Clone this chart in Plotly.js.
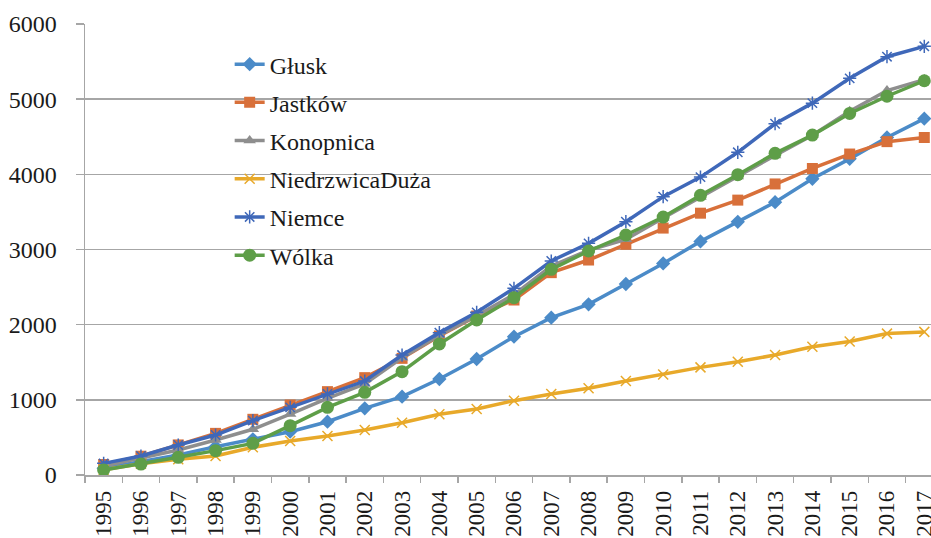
<!DOCTYPE html>
<html><head><meta charset="utf-8">
<script src="https://cdn.plot.ly/plotly-3.0.1.min.js"></script>
<style>html,body{margin:0;padding:0;background:#fff}#chart{width:931px;height:538px}</style>
</head><body><div id="chart"></div>
<script>
const years = ['1995','1996','1997','1998','1999','2000','2001','2002','2003','2004','2005','2006','2007','2008','2009','2010','2011','2012','2013','2014','2015','2016','2017'];
const glusk = [90,175,266,377,475,576,709,887,1042,1277,1543,1840,2093,2271,2541,2815,3108,3368,3629,3941,4206,4490,4741];
const jastkow = [140,250,400,554,741,931,1109,1295,1552,1849,2115,2328,2692,2860,3069,3285,3483,3657,3872,4078,4270,4435,4490];
const konopnica = [120,222,333,466,608,811,1020,1211,1560,1860,2120,2400,2780,2990,3136,3420,3700,3970,4250,4520,4840,5115,5260];
const niedrzwica = [70,150,210,253,368,452,519,599,696,807,878,989,1078,1153,1251,1338,1432,1506,1597,1707,1776,1881,1904];
const niemce = [155,253,399,532,723,900,1078,1250,1596,1894,2164,2483,2847,3082,3370,3703,3963,4293,4673,4947,5277,5565,5703];
const wolka = [67,146,235,324,421,656,900,1100,1375,1743,2062,2359,2736,2980,3193,3432,3721,3995,4279,4522,4810,5039,5245];

const names = ['Głusk','Jastków','Konopnica','NiedrzwicaDuża','Niemce','Wólka'];
const series = [glusk, jastkow, konopnica, niedrzwica, niemce, wolka];
const colors = ['#4b8bc8','#d8703a','#8e8e8e','#e8a92a','#3f68b9','#5e9e48'];
const markers = [
  {symbol:'diamond', size:11},
  {symbol:'square', size:11},
  {symbol:'triangle-up', size:11},
  {symbol:'x-thin', size:10, line:{width:1.5}},
  {symbol:'asterisk', size:11, line:{width:1.5}},
  {symbol:'circle', size:13}
];

const traces = series.map((s,i)=>{
  const m = Object.assign({color: colors[i]}, markers[i]);
  if (m.line) m.line.color = colors[i];
  return {
    x: years, y: s, type:'scatter', mode:'lines+markers', name: names[i],
    legendgroup: 'g'+i,
    line:{color: colors[i], width:3.5},
    marker: m
  };
});
const fam = 'Liberation Serif, Times New Roman, DejaVu Serif, serif';
const layout = {
  width:931, height:538,
  margin:{l:85, r:0, t:24, b:63, pad:0},
  paper_bgcolor:'#fff', plot_bgcolor:'#fff',
  font: {family:fam, size:24, color:'#1a1a1a'},
  showlegend:true,
  legend:{x:0.171, y:0.96, xanchor:'left', yanchor:'top', bgcolor:'rgba(0,0,0,0)',
          font:{family:fam, size:24, color:'#1a1a1a'}, tracegroupgap:4, itemwidth:30},
  xaxis:{type:'category', range:[-0.5, 22.18], tickson:'boundaries', ticks:'outside', ticklen:6,
         tickcolor:'#a6a6a6', tickwidth:1.5, showline:true, linecolor:'#a6a6a6', linewidth:1.5,
         showgrid:false, tickangle:-90, ticklabelstandoff:5,
         tickfont:{family:fam, size:23, color:'#1a1a1a'},
         zeroline:false, fixedrange:true},
  yaxis:{range:[0,6000], tickvals:[0,1000,2000,3000,4000,5000,6000], ticks:'outside', ticklen:8,
         tickcolor:'#a6a6a6', tickwidth:1.5, showline:true, linecolor:'#a6a6a6', linewidth:1.5,
         showgrid:true, gridcolor:'#a6a6a6', gridwidth:1.5, zeroline:false, ticklabelstandoff:14,
         tickfont:{family:fam, size:24, color:'#1a1a1a'}, fixedrange:true}
};
Plotly.newPlot('chart', traces, layout, {displayModeBar:false, staticPlot:true});
</script></body></html>
